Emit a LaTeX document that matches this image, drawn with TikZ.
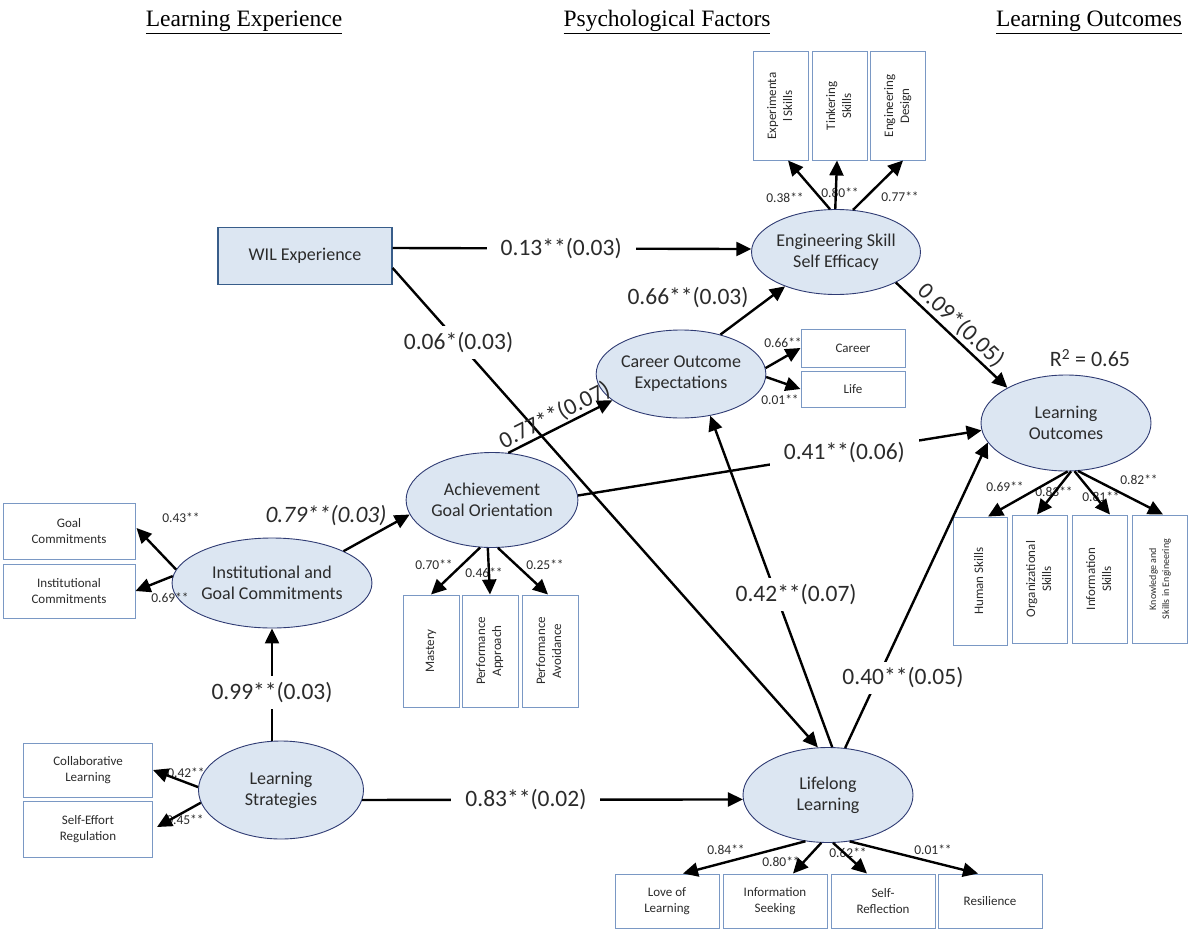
\documentclass[tikz,border=0pt]{standalone}
\usepackage{fontspec}
\usepackage{graphicx}
\setmainfont{Carlito}
\newfontfamily\headfont{Liberation Serif}
\usetikzlibrary{shapes.geometric,arrows.meta}
\definecolor{latfill}{HTML}{DCE6F2}
\definecolor{latline}{HTML}{2F3B73}
\definecolor{indline}{HTML}{7A98C4}
\definecolor{willine}{HTML}{385D8A}
\definecolor{txtdark}{HTML}{2B2B2B}
\newcommand{\vtxt}[1]{\rotatebox{90}{\begin{tabular}{@{}c@{}}#1\end{tabular}}}
\begin{document}
\begin{tikzpicture}[x=1pt,y=-1pt,
  latent/.style={ellipse, draw=latline, line width=0.9pt, fill=latfill, inner sep=0pt, align=center, text=txtdark, font=\fontsize{18}{21}\selectfont},
  ind/.style={rectangle, draw=indline, line width=1pt, fill=white, inner sep=1pt, align=center, text=txtdark, font=\fontsize{13}{16}\selectfont},
  link/.style={draw, line width=2.4pt, -{Triangle[length=15pt,width=14pt]}},
  load/.style={text=txtdark, font=\fontsize{13.5}{16}\selectfont},
  coef/.style={fill=white, inner xsep=14pt, inner ysep=6pt, text=txtdark, font=\fontsize{23.5}{28}\selectfont},
  head/.style={font=\headfont\fontsize{23.5}{28}\selectfont}
]
\useasboundingbox (0,0) rectangle (1188,931);

% headings
\node[head] (hexp) at (244,22) {\underline{Learning Experience}};
\node[head] (hpsy) at (667,22) {\underline{Psychological Factors}};
\node[head] (hout) at (1089,22) {\underline{Learning Outcomes}};

% latent variables
\node[latent, minimum width=158pt, minimum height=85pt] (esse) at (836,252) {Engineering Skill\\Self Efficacy};
\node[latent, minimum width=168pt, minimum height=88pt] (coe) at (681,374) {Career Outcome\\Expectations};
\node[latent, minimum width=170pt, minimum height=96pt] (lo) at (1066,423) {Learning\\Outcomes};
\node[latent, minimum width=171pt, minimum height=95pt] (ago) at (492,500) {Achievement\\Goal Orientation};
\node[latent, minimum width=170pt, minimum height=90pt] (igc) at (272,583) {Institutional and\\Goal Commitments};
\node[latent, minimum width=165pt, minimum height=98pt] (ls) at (281,790) {Learning\\Strategies};
\node[latent, minimum width=170pt, minimum height=95pt] (ll) at (828,795) {Lifelong\\Learning};

\node[ind, draw=willine, line width=1.2pt, fill=latfill, minimum width=174pt, minimum height=57pt, font=\fontsize{18}{21}\selectfont] (wil) at (305,256) {WIL Experience};

% indicators
\node[ind, minimum width=55pt, minimum height=108pt] (exper) at (781,106) {\vtxt{Experimenta\\l Skills}};
\node[ind, minimum width=55pt, minimum height=108pt] (tink) at (840,106) {\vtxt{Tinkering\\Skills}};
\node[ind, minimum width=55pt, minimum height=108pt] (engd) at (898,106) {\vtxt{Engineering\\Design}};

\node[ind, minimum width=104pt, minimum height=38pt] (career) at (853,348) {Career};
\node[ind, minimum width=104pt, minimum height=36pt] (life) at (853,389) {Life};

\node[ind, minimum width=132pt, minimum height=56pt] (goal) at (69,531) {Goal\\Commitments};
\node[ind, minimum width=132pt, minimum height=54pt] (inst) at (69,591) {Institutional\\Commitments};

\node[ind, minimum width=129pt, minimum height=54pt] (coll) at (88,770) {Collaborative\\Learning};
\node[ind, minimum width=129pt, minimum height=56pt] (seff) at (88,829) {Self-Effort\\Regulation};

\node[ind, minimum width=56pt, minimum height=112pt] (mast) at (431,651) {\vtxt{Mastery}};
\node[ind, minimum width=56pt, minimum height=112pt] (papp) at (490,651) {\vtxt{Performance\\Approach}};
\node[ind, minimum width=56pt, minimum height=112pt] (pavo) at (550,651) {\vtxt{Performance\\Avoidance}};

\node[ind, minimum width=54pt, minimum height=128pt] (hum) at (980,581) {\vtxt{Human Skills}};
\node[ind, minimum width=55pt, minimum height=128pt] (org) at (1040,579) {\vtxt{Organizational\\Skills}};
\node[ind, minimum width=55pt, minimum height=128pt] (info) at (1100,579) {\vtxt{Information\\Skills}};
\node[ind, minimum width=55pt, minimum height=128pt, font=\fontsize{10}{13}\selectfont] (know) at (1160,579) {\vtxt{Knowledge and\\Skills in Engineering}};

\node[ind, minimum width=104pt, minimum height=54pt] (love) at (667,901) {Love of\\Learning};
\node[ind, minimum width=104pt, minimum height=54pt] (iseek) at (775,901) {Information\\Seeking};
\node[ind, minimum width=104pt, minimum height=54pt] (selfr) at (883,901) {Self-\\Reflection};
\node[ind, minimum width=104pt, minimum height=54pt] (resil) at (990,901) {Resilience};

% loadings
\node[load] (lexper) at (785,198) {0.38**};
\node[load] (ltink) at (840,193) {0.80**};
\node[load] (lengd) at (900,197) {0.77**};
\node[load] (lcareer) at (783,343) {0.66**};
\node[load] (llife) at (780,400) {0.01**};
\node[load] (lgoal) at (181,518) {0.43**};
\node[load] (linst) at (170,598) {0.69**};
\node[load] (lcoll) at (186,773) {0.42**};
\node[load] (lseff) at (185,820) {0.45**};
\node[load] (lmast) at (434,565) {0.70**};
\node[load] (lpapp) at (484,573) {0.46**};
\node[load] (lpavo) at (545,565) {0.25**};
\node[load] (lhum) at (1005,487) {0.69**};
\node[load] (lorg) at (1054,492) {0.83**};
\node[load] (linfo) at (1101,497) {0.81**};
\node[load] (lknow) at (1139,480) {0.82**};
\node[load] (llove) at (726,850) {0.84**};
\node[load] (liseek) at (781,862) {0.80**};
\node[load] (lselfr) at (848,853) {0.62**};
\node[load] (lresil) at (933,850) {0.01**};
\node[text=txtdark, font=\fontsize{22}{26}\selectfont] (rsq) at (1090,358) {R\textsuperscript{2} = 0.65};

\path[link] (esse.98) -- ([shift={(7,0)}]exper.south);
\path[link] (esse.91) -- ([shift={(-3,0)}]tink.south);
\path[link] (esse.68) -- ([shift={(5,0)}]engd.south);
\path[link] (coe.4) -- (career.west);
\path[link] (coe.-2) -- (life.west);
\path[link] (igc.172) -- ([shift={(1,-3)}]goal.east);
\path[link] (igc.176) -- (inst.east);
\path[link] (ls.178) -- (coll.east);
\path[link] (ls.189) -- ([shift={(4,-2)}]seff.east);
\path[link] (ago.256) -- (mast.north);
\path[link] (ago.265) -- (papp.north);
\path[link] (ago.277) -- ([shift={(-2,0)}]pavo.north);
\path[link] (lo.272) -- ([shift={(8,0)}]hum.north);
\path[link] (lo.276) -- ([shift={(-3,0)}]org.north);
\path[link] (lo.280) -- ([shift={(10,0)}]info.north);
\path[link] (lo.284) -- ([shift={(3,0)}]know.north);
\path[link] (ll.244) -- ([shift={(16,0)}]love.north);
\path[link] (ll.262) -- ([shift={(18,0)}]iseek.north);
\path[link] (ll.276) -- ([shift={(-16,0)}]selfr.north);
\path[link] (ll.295) -- ([shift={(-12,0)}]resil.north);

% structural paths
\path[link] ([shift={(0,-8)}]wil.east) -- (esse.178) node[coef, pos=0.47] {0.13**(0.03)};
\path[link] ([shift={(0,12)}]wil.east) -- (ll.102) node[coef, pos=0.155] {0.06*(0.03)};
\path[link] (igc.24) -- (ago.190);
\node[text=txtdark, font=\fontsize{23.5}{28}\itshape] (ligc) at (326,516) {0.79**(0.03)};
\path[link] (ago.71) -- (coe.201) node[pos=0.5, sloped, above, inner sep=1pt, text=txtdark, font=\fontsize{23.5}{28}\selectfont] {0.77**(0.07)};
\path[link] (coe.45) -- (esse.214);
\node[text=txtdark, font=\fontsize{23.5}{28}\selectfont] (lcoe) at (688,298) {0.66**(0.03)};
\path[link] (esse.-27) -- (lo.149) node[pos=0.5, sloped, above, inner sep=2pt, text=txtdark, font=\fontsize{23.5}{28}\selectfont] {0.09*(0.05)};
\path[link] (ago.3) -- (lo.185) node[coef, pos=0.66] {0.41**(0.06)};
\path[link] (ll.85) -- (coe.-55) node[coef, pos=0.46, xshift=20pt] {0.42**(0.07)};
\path[link] (ll.70) -- (lo.194) node[coef, pos=0.23, xshift=25pt] {0.40**(0.05)};
\path[link] (ls.-7) -- (ll.183) node[coef, pos=0.43] {0.83**(0.02)};
\path[link] (ls.north -| igc.south) -- (igc.south) node[coef, pos=0.43] {0.99**(0.03)};
\end{tikzpicture}
\end{document}
